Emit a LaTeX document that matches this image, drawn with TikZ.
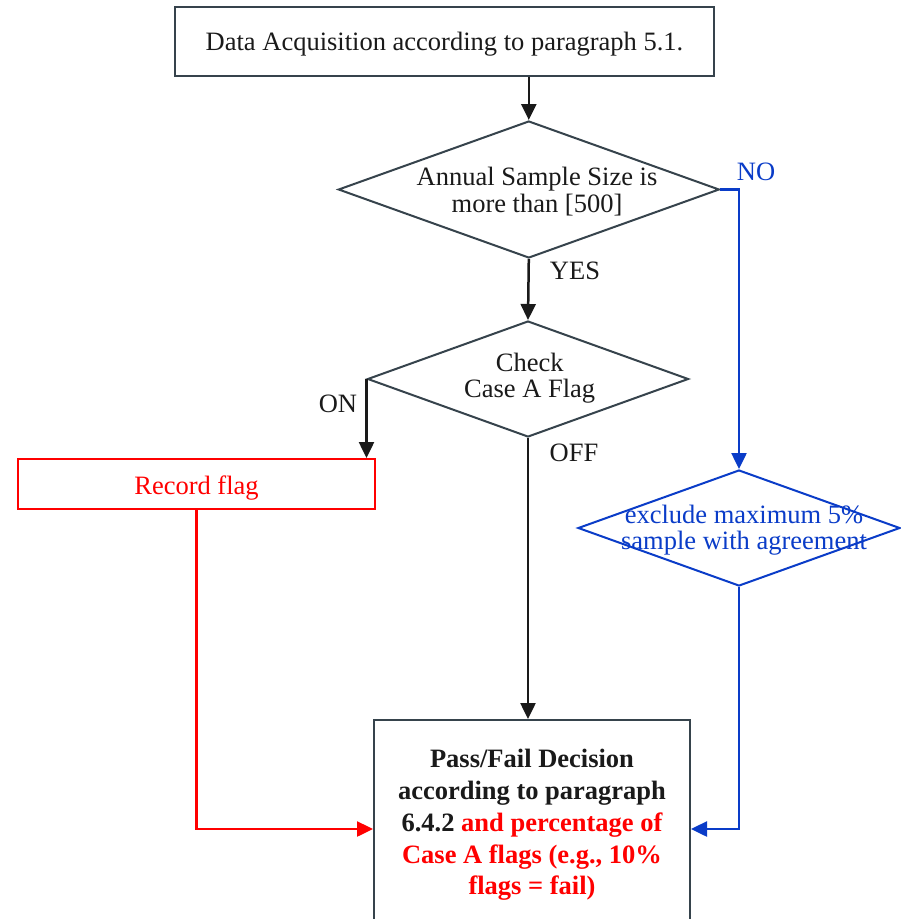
\documentclass[tikz,border=0pt]{standalone}
\usepackage{fontspec}
\setmainfont{Liberation Serif}
\usetikzlibrary{shapes.geometric,arrows.meta}
\definecolor{edge}{HTML}{36434C}
\definecolor{ink}{HTML}{1A1A1A}
\definecolor{nblue}{HTML}{0A3CC8}
\definecolor{nred}{HTML}{FF0000}
\begin{document}
\begin{tikzpicture}[x=1pt,y=-1pt,
  font=\fontsize{26.5}{26.5}\selectfont,
  box/.style={draw=edge, line width=2pt, rectangle, inner sep=0pt, text=ink},
  dia/.style={draw=edge, line width=2pt, diamond, inner sep=0pt},
  txt/.style={inner sep=0pt, align=center, text=ink},
  lbl/.style={inner sep=0pt, text=ink},
  arr/.style={-{Triangle[length=16pt,width=15pt]}, line width=2.5pt, color=ink},
  redarr/.style={arr, color=nred},
  bluearr/.style={arr, color=nblue}]
\clip (0,0) rectangle (901,919);
\fill[white] (0,0) rectangle (901,919);

% nodes
\node[box, minimum width=539pt, minimum height=69pt] (top) at (444.5,41)
  {\raisebox{-9.5pt}[0pt][0pt]{Data Acquisition according to paragraph 5.1.}};
\node[dia, minimum width=381pt, minimum height=137pt] (d1) at (528.8,189.5) {};
\node[txt] (t1) at (537,191.5) {Annual Sample Size is\\more than [500]};
\node[dia, minimum width=321pt, minimum height=116pt] (d2) at (528,379) {};
\node[txt] (t2) at (529.7,378) {Check\\Case A Flag};
\node[dia, draw=nblue, minimum width=322pt, minimum height=116pt] (d3) at (739,528) {};
\node[txt, text=nblue] (t3) at (744,530) {exclude maximum 5\%\\sample with agreement};
\node[box, draw=nred, text=nred, minimum width=357pt, minimum height=50pt] (rec) at (196.5,484)
  {\raisebox{-10pt}[0pt][0pt]{Record flag}};
\node[box, minimum width=316pt, minimum height=210pt, align=center,
  font=\fontsize{26.5}{31.75}\selectfont\bfseries] (fin) at (532,825)
  {Pass/Fail Decision\\according to paragraph\\6.4.2 \textcolor{nred}{and percentage of}\\
   \textcolor{nred}{Case A flags (e.g., 10\%}\\\textcolor{nred}{flags = fail)}};

% labels
\node[lbl] (yes) at (575,271) {YES};
\node[lbl, text=nblue] (no) at (756,172) {NO};
\node[lbl] (on) at (338,404) {ON};
\node[lbl] (off) at (574,452.5) {OFF};

% connectors
\draw[arr] (d1.north |- top.south) -- (d1.north);
\draw[arr] (d1.south) -- (d2.north);
\draw[bluearr] (d1.east) -| (d3.north);
\draw[arr] (d2.west) -- (d2.west |- rec.north);
\draw[arr] (d2.south) -- (d2.south |- fin.north);
\draw[redarr] (rec.south) |- ([yshift=-4pt]fin.west);
\draw[bluearr] (d3.south) |- ([yshift=-4pt]fin.east);
\end{tikzpicture}
\end{document}
